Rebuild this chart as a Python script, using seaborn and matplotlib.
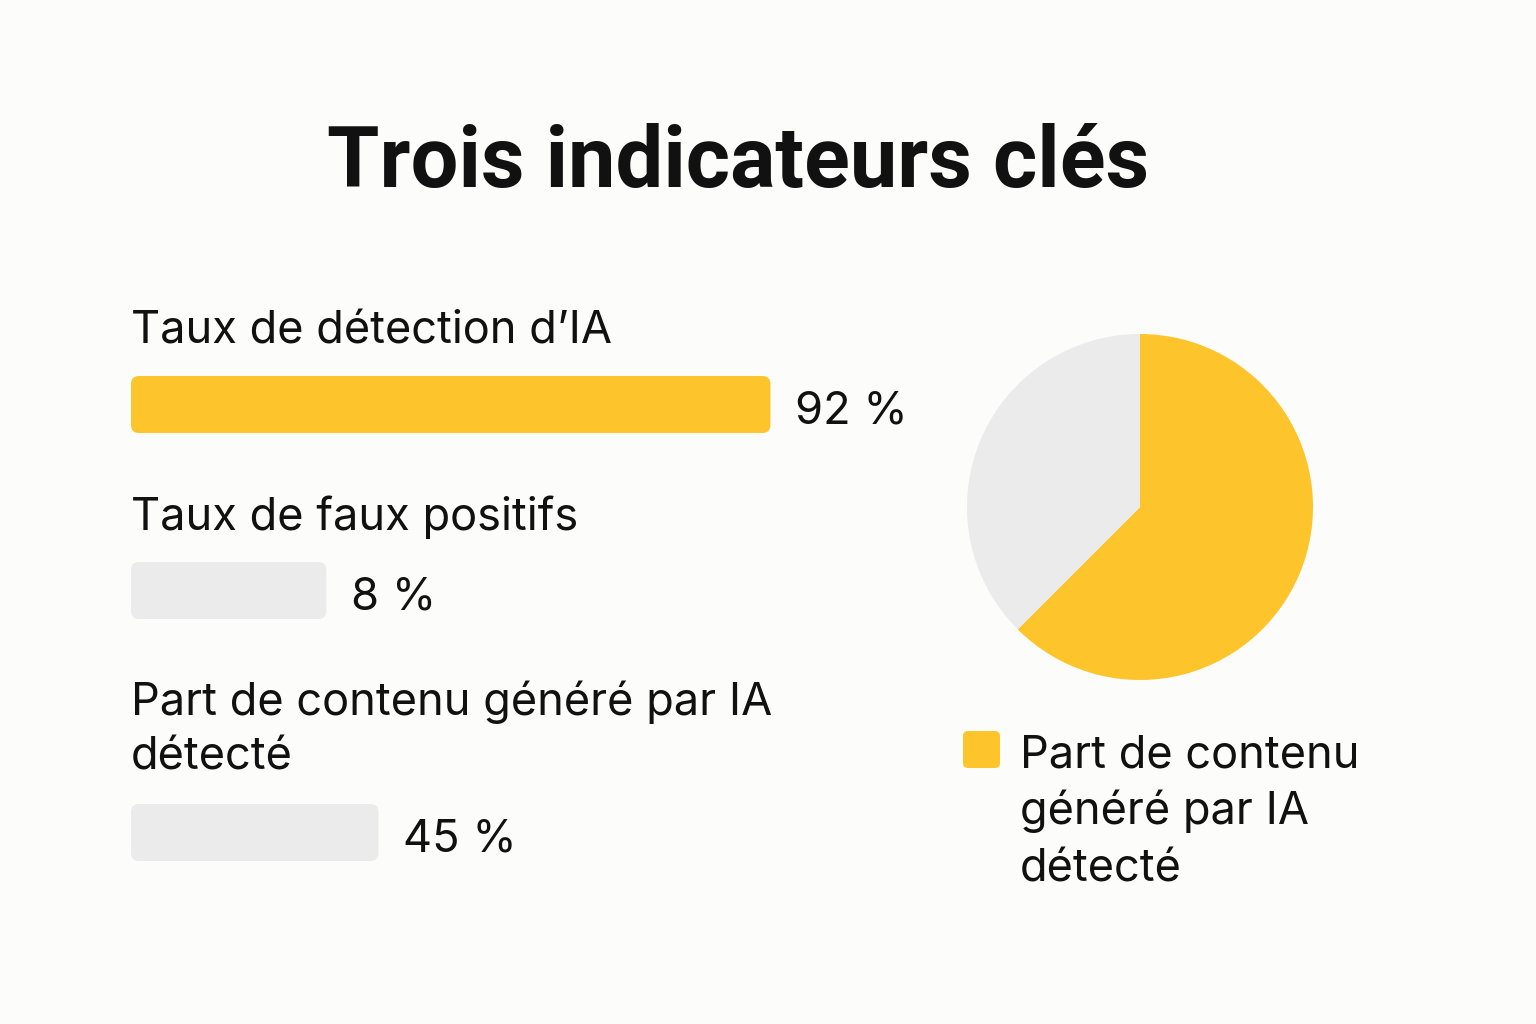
import matplotlib
matplotlib.use("Agg")
import matplotlib.pyplot as plt
import seaborn as sns
from matplotlib.patches import FancyBboxPatch

# Data
labels = ["Taux de détection d’IA", "Taux de faux positifs",
          "Part de contenu généré par IA\ndétecté"]
values = [92, 8, 45]                 # printed percentages
bar_lengths = [92, 28.1, 35.6]       # drawn bar lengths (same scale as 92)
bar_colors = ["#FDC52B", "#EBEBEB", "#EBEBEB"]
pie_values = [62.5, 37.5]
pie_colors = ["#FDC52B", "#EBEBEB"]
legend_label = "Part de contenu\ngénéré par IA\ndétecté"
title = "Trois indicateurs clés"

BG = "#FCFCFA"
INK = "#111111"
W, H = 1536, 1024
FS = 32.5

sns.set_theme(style="white")
plt.rcParams["font.family"] = ["Inter", "DejaVu Sans"]

fig = plt.figure(figsize=(W / 100, H / 100), dpi=100, facecolor=BG)


def px_axes(x, y, w, h):
    # axes placed by pixel box (top-left origin)
    return fig.add_axes([x / W, 1 - (y + h) / H, w / W, h / H])


fig.text(738 / W, 1 - 187 / H, title, ha="center", va="baseline",
         fontsize=61, fontweight="bold", color=INK,
         family=["Roboto", "DejaVu Sans"])

# bars: one small axes per indicator
bar_tops = [376, 562, 804]
label_base = [344, 530, 715]
bar_h = 57
unit_w = 695  # pixels for 100 %
for lab, val, length, col, top, lb in zip(labels, values, bar_lengths,
                                          bar_colors, bar_tops, label_base):
    ax = px_axes(131, top, unit_w, bar_h)
    sns.barplot(x=[length], y=[lab], color=col, width=1.0, ax=ax,
                saturation=1, edgecolor="none")
    ax.set_xlim(0, 100)
    ax.set_ylim(0.5, -0.5)
    ax.axis("off")
    ax.set_facecolor("none")
    # swap the square bar for a rounded one
    p = ax.patches[0]
    x0, y0, bw, bh = p.get_x(), p.get_y(), p.get_width(), p.get_height()
    p.set_visible(False)
    r = 8 / (unit_w / 100)  # 8 px radius in x data units
    aspect = (1 / bar_h) / (100 / unit_w)
    rp = FancyBboxPatch((x0, y0), bw, bh,
                        boxstyle=f"round,pad=0,rounding_size={r}",
                        mutation_aspect=aspect, facecolor=col,
                        edgecolor="none", clip_on=False)
    ax.add_patch(rp)
    ax.text(x0 + bw + 25 / (unit_w / 100), 19 / bar_h, f"{val} %",
            va="baseline", ha="left", fontsize=FS, color=INK)
    for i, line in enumerate(lab.split("\n")):
        fig.text(131 / W, 1 - (lb + 55 * i) / H, line, ha="left",
                 va="baseline", fontsize=FS, color=INK)

# pie
R = 173
pax = px_axes(1140 - R, 507 - R, 2 * R, 2 * R)
wedges, _ = pax.pie(pie_values, colors=pie_colors, startangle=90,
                    counterclock=False, radius=1,
                    wedgeprops=dict(linewidth=0))
pax.set_xlim(-1, 1)
pax.set_ylim(-1, 1)
pax.set_aspect("equal")
for w_ in wedges:
    w_.set_clip_on(False)

# legend
lx, ly, ls = 963, 731, 37
fig.patches.append(FancyBboxPatch((lx / W, 1 - (ly + ls) / H), ls / W, ls / H,
                                  boxstyle=f"round,pad=0,rounding_size={5 / W}",
                                  mutation_aspect=W / H,
                                  facecolor=pie_colors[0], edgecolor="none",
                                  transform=fig.transFigure, figure=fig))
for i, line in enumerate(legend_label.split("\n")):
    fig.text(1020 / W, 1 - (767 + 57 * i) / H, line, ha="left",
             va="baseline", fontsize=FS, color=INK)

fig.savefig("out.png", dpi=100, facecolor=BG)
